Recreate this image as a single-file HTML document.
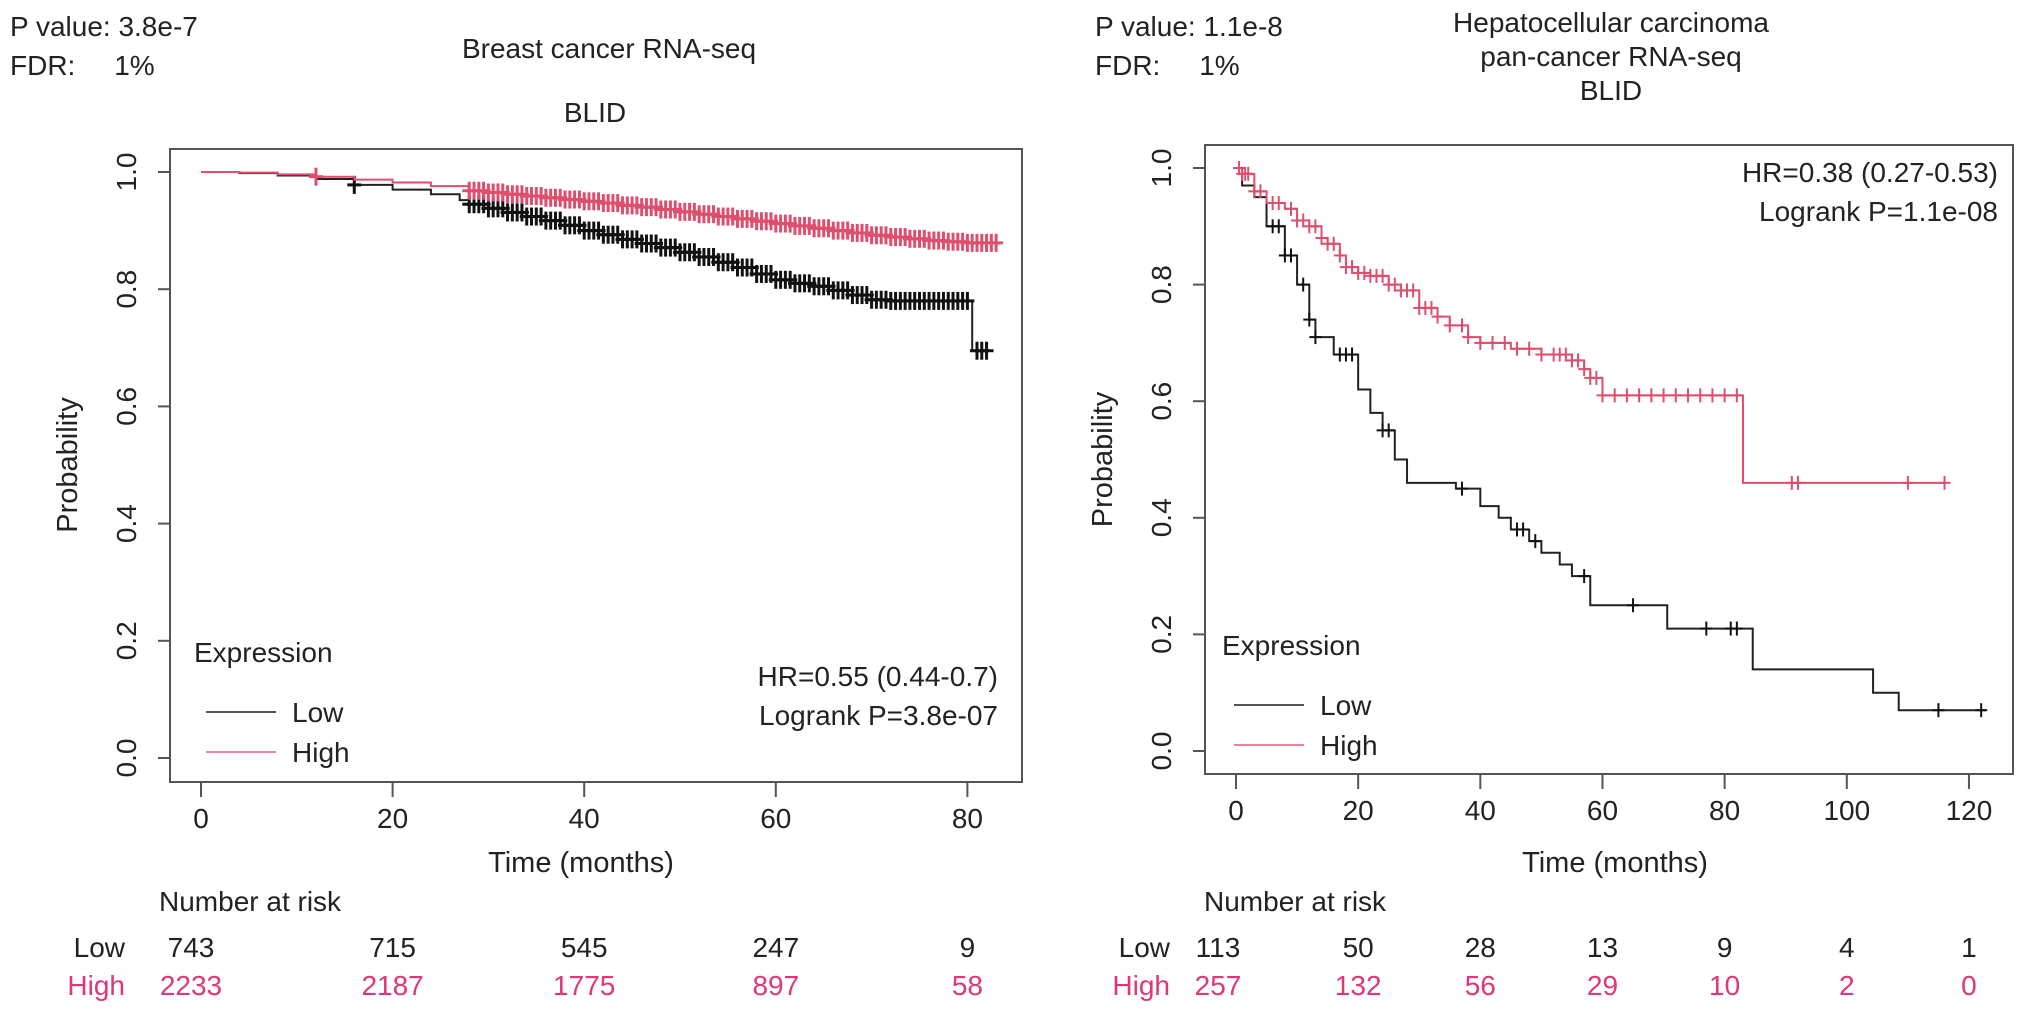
<!DOCTYPE html>
<html><head><meta charset="utf-8">
<style>
html,body{margin:0;padding:0;background:#fff;}
svg{display:block;font-family:"Liberation Sans",Arial,sans-serif;}
</style></head>
<body>
<svg id="chart" width="2032" height="1016" viewBox="0 0 2032 1016">
<g id="static" font-size="28" fill="#222">
  <text x="10" y="36">P value: 3.8e-7</text>
  <text x="10" y="75">FDR:&#160;&#160;&#160;&#160;&#160;1%</text>
  <text x="609" y="58" text-anchor="middle">Breast cancer RNA-seq</text>
  <text x="595" y="122" text-anchor="middle">BLID</text>
  <text x="1095" y="36">P value: 1.1e-8</text>
  <text x="1095" y="75">FDR:&#160;&#160;&#160;&#160;&#160;1%</text>
  <text x="1611" y="32" text-anchor="middle">Hepatocellular carcinoma</text>
  <text x="1611" y="66" text-anchor="middle">pan-cancer RNA-seq</text>
  <text x="1611" y="100" text-anchor="middle">BLID</text>
</g>
</svg>
<script>
// ---------- Left panel data (Breast cancer) ----------
const leftXTicks = [0, 20, 40, 60, 80];
const leftHighT = [0,4,8,12,16,20,24,28,30,32,34,36,38,40,42,44,46,48,50,52,54,56,58,60,62,64,66,68,70,72,74,76,78,80,83];
const leftHighS = [1,0.999,0.996,0.992,0.987,0.982,0.976,0.968,0.965,0.962,0.959,0.956,0.953,0.95,0.947,0.943,0.94,0.936,0.932,0.928,0.924,0.92,0.916,0.912,0.908,0.904,0.9,0.896,0.892,0.889,0.886,0.883,0.881,0.879,0.879];
const leftLowT = [0,4,8,12,16,20,24,27,28,30,32,34,36,38,40,42,44,46,48,50,52,54,56,58,60,62,64,66,68,70,72,80,80.5,82.5];
const leftLowS = [1,0.998,0.994,0.988,0.978,0.97,0.962,0.952,0.945,0.938,0.931,0.924,0.917,0.909,0.9,0.893,0.885,0.878,0.871,0.863,0.855,0.846,0.837,0.826,0.816,0.81,0.805,0.798,0.79,0.782,0.78,0.78,0.695,0.695];
const leftHighCens = [12,28,28.5,29,29.5,30,30.5,31,31.5,32,32.5,33,33.5,34,34.5,35,35.5,36,36.5,37,37.5,38,38.5,39,39.5,40,40.5,41,41.5,42,42.5,43,43.5,44,44.5,45,45.5,46,46.5,47,47.5,48,48.5,49,49.5,50,50.5,51,51.5,52,52.5,53,53.5,54,54.5,55,55.5,56,56.5,57,57.5,58,58.5,59,59.5,60,60.5,61,61.5,62,62.5,63,63.5,64,64.5,65,65.5,66,66.5,67,67.5,68,68.5,69,69.5,70,70.5,71,71.5,72,72.5,73,73.5,74,74.5,75,75.5,76,76.5,77,77.5,78,78.5,79,79.5,80,80.5,81,81.5,82,82.5,83];
const leftLowCens = [16,28,28.5,29,29.5,30,30.5,31,31.5,32,32.5,33,33.5,34,34.5,35,35.5,36,36.5,37,37.5,38,38.5,39,39.5,40,40.5,41,41.5,42,42.5,43,43.5,44,44.5,45,45.5,46,46.5,47,47.5,48,48.5,49,49.5,50,50.5,51,51.5,52,52.5,53,53.5,54,54.5,55,55.5,56,56.5,57,57.5,58,58.5,59,59.5,60,60.5,61,61.5,62,62.5,63,63.5,64,64.5,65,65.5,66,66.5,67,67.5,68,68.5,69,69.5,70,70.5,71,71.5,72,72.5,73,73.5,74,74.5,75,75.5,76,76.5,77,77.5,78,78.5,79,79.5,80,81,81.5,82];
const leftRiskLow = ["743","715","545","247","9"];
const leftRiskHigh = ["2233","2187","1775","897","58"];
// ---------- Right panel data (Hepatocellular) ----------
const rightXTicks = [0, 20, 40, 60, 80, 100, 120];
const rightHighT = [0,1,3,5,8,10,12,14,15,17,18,20,22,25,27,30,33,35,38,40,45,50,55,57,58,60,82.5,83,116];
const rightHighS = [1,0.99,0.96,0.94,0.93,0.91,0.9,0.88,0.87,0.85,0.83,0.82,0.815,0.8,0.79,0.76,0.745,0.73,0.71,0.7,0.69,0.68,0.67,0.655,0.64,0.61,0.61,0.46,0.46];
const rightLowT = [0,1,3,5,8,10,12,13,16,20,22,24,26,28,33,36,40,43,45,48,50,53,55,58,70.6,84.6,104.3,108.5,122.8];
const rightLowS = [1,0.97,0.95,0.9,0.85,0.8,0.74,0.71,0.68,0.62,0.58,0.55,0.5,0.46,0.46,0.45,0.42,0.4,0.38,0.36,0.34,0.32,0.3,0.25,0.21,0.14,0.1,0.07,0.07];
const rightHighCens = [0.5,1,1.5,2,3,4,6,7,9,10,11,12,13,14,15,16,17,18,19,20,21,22,23,24,25,26,27,28,29,30,31,32,33,35,37,38,40,42,44,46,48,50,52,53,54,55,56,57,58,59,60,62,64,66,68,70,72,74,76,78,80,82,91,92,110,116];
const rightLowCens = [6,7,8,9,11,12,13,17,18,19,24,25,37,46,47,49,57,65,77,81,82,115,122];
const rightRiskLow = ["113","50","28","13","9","4","1"];
const rightRiskHigh = ["257","132","56","29","10","2","0"];

const NS = "http://www.w3.org/2000/svg";
const svg = document.getElementById('chart');
const RED = "#de4f6e", TXTRED = "#e0367a", AX = "#555";
const yTicks = [0, 0.2, 0.4, 0.6, 0.8, 1.0];
const yTickLabels = ["0.0","0.2","0.4","0.6","0.8","1.0"];

function mk(tag, attrs, parent){
  const e = document.createElementNS(NS, tag);
  for (const k in attrs) e.setAttribute(k, attrs[k]);
  (parent||svg).appendChild(e);
  return e;
}

function panel(cfg){
  const g = mk('g', {});
  
  
  const X = t => cfg.x0 + t * cfg.pxPerMonth;
  const Y = p => cfg.y0 - p * (cfg.y0 - cfg.y1);
  const box = mk('rect', {x:cfg.bl, y:cfg.bt, width:cfg.br-cfg.bl, height:cfg.bb-cfg.bt, fill:'none', stroke:AX, 'stroke-width':2}, g);
  
  
  yTicks.forEach((v,i)=>{
    const yy = Y(v);
    const tk = mk('line', {x1:cfg.bl-12, x2:cfg.bl, y1:yy, y2:yy, stroke:AX, 'stroke-width':2}, g);
    
    
    const lb = mk('text', {x:0, y:0, 'font-size':28, fill:'#222', 'text-anchor':'middle', transform:`translate(${cfg.bl-34},${yy}) rotate(-90)`}, g);
    lb.textContent = yTickLabels[i];
    
    
  });
  const yt = mk('text', {x:0, y:0, 'font-size':29, fill:'#222', 'text-anchor':'middle', transform:`translate(${cfg.bl-93},${(cfg.y0+cfg.y1)/2}) rotate(-90)`}, g);
  yt.textContent = 'Probability';
  
  
  cfg.xTicks.forEach((v,i)=>{
    const xx = X(v);
    const tk = mk('line', {x1:xx, x2:xx, y1:cfg.bb, y2:cfg.bb+15, stroke:AX, 'stroke-width':2}, g);
    
    
    const lb = mk('text', {x:xx, y:cfg.bb+46, 'font-size':28, fill:'#222', 'text-anchor':'middle'}, g);
    lb.textContent = String(v);
    
    
    const rl = mk('text', {x:xx + (i===0?cfg.firstRiskShift:0), y:957, 'font-size':28, fill:'#222', 'text-anchor':'middle'}, g);
    rl.textContent = cfg.riskLow[i];
    
    
    const rh = mk('text', {x:xx + (i===0?cfg.firstRiskShift:0), y:995, 'font-size':28, fill:TXTRED, 'text-anchor':'middle'}, g);
    rh.textContent = cfg.riskHigh[i];
    
    
  });
  const xt = mk('text', {x:cfg.xTitleX, y:872, 'font-size':29, fill:'#222', 'text-anchor':'middle'}, g);
  xt.textContent = 'Time (months)';
  
  
  const nr = mk('text', {x:cfg.nrX, y:911, 'font-size':28, fill:'#222'}, g);
  nr.textContent = 'Number at risk';
  
  
  const rlL = mk('text', {x:cfg.rowLabelX, y:957, 'font-size':28, fill:'#222', 'text-anchor':'end'}, g);
  rlL.textContent = 'Low';
  
  
  const rlH = mk('text', {x:cfg.rowLabelX, y:995, 'font-size':28, fill:TXTRED, 'text-anchor':'end'}, g);
  rlH.textContent = 'High';
  
  

  function curve(T, S, color, name){
    let d = `M${X(T[0])},${Y(S[0])}`;
    for (let i=1;i<T.length;i++){ d += ` H${X(T[i])} V${Y(S[i])}`; }
    const p = mk('path', {d, fill:'none', stroke:color, 'stroke-width':2}, g);
    
    
  }
  function survAt(T,S,t){ let s=S[0]; for(let i=0;i<T.length;i++){ if(T[i]<=t) s=S[i]; } return s; }
  function cens(C, T, S, color, name){
    const cg = mk('g', {stroke:color, 'stroke-width':cfg.cs}, g);
    
    
    C.forEach(t=>{
      const xx = X(t), yy = Y(survAt(T,S,t));
      mk('line', {x1:xx, x2:xx, y1:yy-cfg.ch, y2:yy+cfg.ch}, cg);
      mk('line', {x1:xx-cfg.cw, x2:xx+cfg.cw, y1:yy, y2:yy}, cg);
    });
  }
  curve(cfg.lowT, cfg.lowS, '#222', 'low-expression-curve');
  cens(cfg.lowC, cfg.lowT, cfg.lowS, '#111', 'low-censor-marks');
  curve(cfg.highT, cfg.highS, RED, 'high-expression-curve');
  cens(cfg.highC, cfg.highT, cfg.highS, RED, 'high-censor-marks');

  const lg = mk('g', {}, g);
  
  
  const lt = mk('text', {x:cfg.legX, y:cfg.legY, 'font-size':28, fill:'#222'}, lg);
  lt.textContent = 'Expression';
  
  
  const l1 = mk('line', {x1:cfg.legX+12, x2:cfg.legX+82, y1:cfg.legY+50, y2:cfg.legY+50, stroke:'#555', 'stroke-width':2}, lg);
  
  
  const t1 = mk('text', {x:cfg.legX+98, y:cfg.legY+60, 'font-size':28, fill:'#222'}, lg);
  t1.textContent = 'Low';
  
  
  const l2 = mk('line', {x1:cfg.legX+12, x2:cfg.legX+82, y1:cfg.legY+90, y2:cfg.legY+90, stroke:'#e8869c', 'stroke-width':2}, lg);
  
  
  const t2 = mk('text', {x:cfg.legX+98, y:cfg.legY+100, 'font-size':28, fill:'#222'}, lg);
  t2.textContent = 'High';
  
  
  const h1 = mk('text', {x:cfg.statX, y:cfg.statY, 'font-size':28, fill:'#222', 'text-anchor':'end'}, g);
  h1.textContent = cfg.hr;
  
  
  const h2 = mk('text', {x:cfg.statX, y:cfg.statY+39, 'font-size':28, fill:'#222', 'text-anchor':'end'}, g);
  h2.textContent = cfg.lr;
  
  
}

panel({name:'left', bl:170, br:1022, bt:149, bb:782, x0:201, pxPerMonth:9.58, y0:758, y1:172,
  xTicks:leftXTicks, riskLow:leftRiskLow, riskHigh:leftRiskHigh, firstRiskShift:-10,
  highT:leftHighT, highS:leftHighS, lowT:leftLowT, lowS:leftLowS, highC:leftHighCens, lowC:leftLowCens,
  ch:9, cw:7, cs:3, xTitleX:581, nrX:159, rowLabelX:125, legX:194, legY:662, statX:998, statY:686,
  hr:'HR=0.55 (0.44-0.7)', lr:'Logrank P=3.8e-07'});
panel({name:'right', bl:1205, br:2013, bt:145, bb:774, x0:1236, pxPerMonth:6.108, y0:751, y1:168,
  xTicks:rightXTicks, riskLow:rightRiskLow, riskHigh:rightRiskHigh, firstRiskShift:-18,
  highT:rightHighT, highS:rightHighS, lowT:rightLowT, lowS:rightLowS, highC:rightHighCens, lowC:rightLowCens,
  ch:7, cw:6, cs:2, xTitleX:1615, nrX:1204, rowLabelX:1170, legX:1222, legY:655, statX:1998, statY:182,
  hr:'HR=0.38 (0.27-0.53)', lr:'Logrank P=1.1e-08'});
</script>
</body></html>
